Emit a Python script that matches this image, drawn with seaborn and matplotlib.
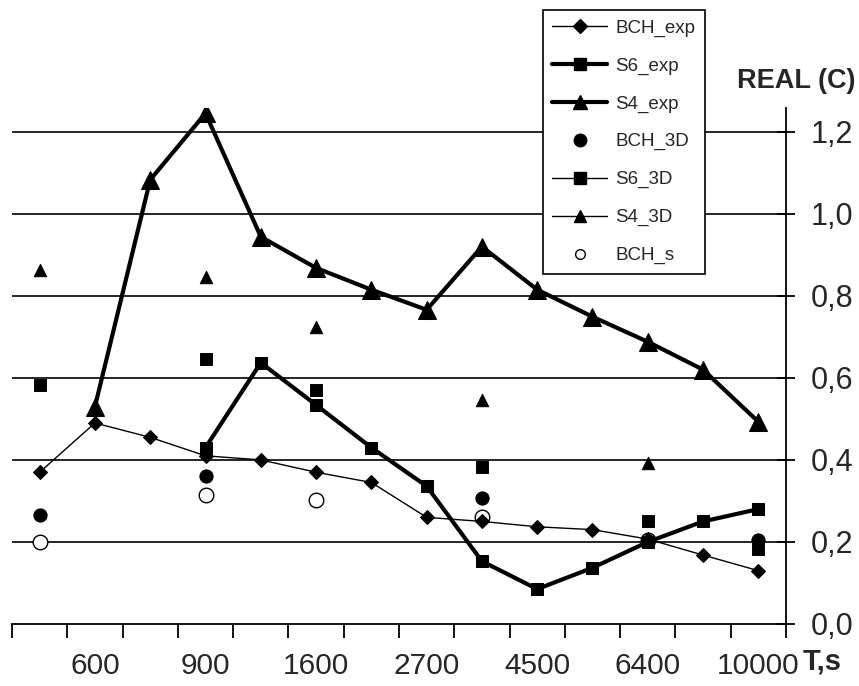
import numpy as np
import pandas as pd
import matplotlib
matplotlib.use("Agg")
import matplotlib.pyplot as plt
from matplotlib.lines import Line2D
import seaborn as sns

# категории по оси T, подписаны только через одну
x_labels = ["", "600", "", "900", "", "1600", "", "2700", "", "4500", "", "6400", "", "10000"]
nan = np.nan

bch_exp = [0.37, 0.49, 0.455, 0.41, 0.40, 0.37, 0.345, 0.26, 0.25, 0.237, 0.23, 0.207, 0.168, 0.13]
s6_exp = [nan, nan, nan, 0.43, 0.637, 0.534, 0.43, 0.336, 0.153, 0.085, 0.137, 0.20, 0.25, 0.28]
s4_exp = [nan, 0.53, 1.083, 1.245, 0.944, 0.868, 0.815, 0.766, 0.92, 0.815, 0.749, 0.688, 0.62, 0.493]
bch_3d = [0.266, nan, nan, 0.36, nan, nan, nan, nan, 0.307, nan, nan, nan, nan, 0.205]
s6_3d = [0.583, nan, nan, 0.646, nan, 0.57, nan, nan, 0.383, nan, nan, 0.25, nan, 0.183]
s4_3d = [0.863, nan, nan, 0.847, nan, 0.725, nan, nan, 0.546, nan, nan, 0.392, nan, nan]
bch_s = [0.20, nan, nan, 0.315, nan, 0.302, nan, nan, 0.26, nan, nan, 0.205, nan, nan]

df = pd.DataFrame({
    "pos": np.arange(len(x_labels)),
    "BCH_exp": bch_exp, "S6_exp": s6_exp, "S4_exp": s4_exp,
    "BCH_3D": bch_3d, "S6_3D": s6_3d, "S4_3D": s4_3d, "BCH_s": bch_s,
})

sns.set_style("white")
plt.rcParams["font.family"] = ["Liberation Sans", "DejaVu Sans"]

fig = plt.figure(figsize=(8.59, 6.86), dpi=100)
ax = fig.add_axes([0.014, 0.0904, 0.901, 0.7522])

# сетка
for yv in [0.2, 0.4, 0.6, 0.8, 1.0, 1.2]:
    ax.axhline(yv, color="black", lw=1.2, zorder=1)

# открытые кружки лежат под линиями
sns.scatterplot(data=df, x="pos", y="BCH_s", marker="o", s=110, color="white",
                edgecolor="black", linewidth=1.0, ax=ax, zorder=2)

sns.lineplot(data=df, x="pos", y="BCH_exp", color="black", lw=1.0, marker="D",
             markersize=7, markeredgecolor="black", ax=ax, zorder=3)
sns.lineplot(data=df, x="pos", y="S6_exp", color="black", lw=3.0, marker="s",
             markersize=8, markeredgecolor="black", ax=ax, zorder=4)
sns.lineplot(data=df, x="pos", y="S4_exp", color="black", lw=3.0, marker="^",
             markersize=13, markeredgecolor="black", ax=ax, zorder=4)

sns.scatterplot(data=df, x="pos", y="BCH_3D", marker="o", s=90, color="black",
                edgecolor="black", ax=ax, zorder=5)
sns.scatterplot(data=df, x="pos", y="S6_3D", marker="s", s=70, color="black",
                edgecolor="black", ax=ax, zorder=5)
sns.scatterplot(data=df, x="pos", y="S4_3D", marker="^", s=80, color="black",
                edgecolor="black", ax=ax, zorder=5)

ax.set_xlim(-0.5, len(x_labels) - 0.5)
ax.set_ylim(0, 1.258)
ax.set_xlabel("")
ax.set_ylabel("")

# ось X: деления между категориями, подписи по центру
ax.set_xticks(np.arange(-0.5, len(x_labels), 1.0))
ax.set_xticklabels([])
ax.set_xticks(np.arange(len(x_labels)), minor=True)
ax.set_xticklabels(x_labels, minor=True, fontsize=21.5)
ax.tick_params(axis="x", which="major", direction="out", length=10, width=1.3,
               color="black", bottom=True)
ax.tick_params(axis="x", which="minor", length=0, pad=20)

# ось Y справа
ax.yaxis.tick_right()
ax.set_yticks([0.0, 0.2, 0.4, 0.6, 0.8, 1.0, 1.2])
ax.set_yticklabels(["0,0", "0,2", "0,4", "0,6", "0,8", "1,0", "1,2"], fontsize=22)
ax.tick_params(axis="y", which="major", direction="inout", length=13, width=1.3,
               color="black", right=True, left=False, pad=11)

for side in ["top", "left"]:
    ax.spines[side].set_visible(False)
for side in ["bottom", "right"]:
    ax.spines[side].set_color("black")
    ax.spines[side].set_linewidth(1.3)

fig.text(737 / 859, 1 - 88 / 686, "REAL (C)", fontsize=19.5, fontweight="bold",
         ha="left", va="baseline")
fig.text(803 / 859, 1 - 670 / 686, "T,s", fontsize=21, fontweight="bold",
         ha="left", va="baseline")

handles = [
    Line2D([], [], color="black", lw=1.0, marker="D", markersize=7),
    Line2D([], [], color="black", lw=3.0, marker="s", markersize=8),
    Line2D([], [], color="black", lw=3.0, marker="^", markersize=10),
    Line2D([], [], color="black", lw=0, marker="o", markersize=9),
    Line2D([], [], color="black", lw=1.0, marker="s", markersize=8),
    Line2D([], [], color="black", lw=1.0, marker="^", markersize=9),
    Line2D([], [], color="black", lw=0, marker="o", markersize=7,
           markerfacecolor="white", markeredgewidth=1.0),
]
labels = ["BCH_exp", "S6_exp", "S4_exp", "BCH_3D", "S6_3D", "S4_3D", "BCH_s"]
leg = fig.legend(handles, labels, loc="upper left",
                 bbox_to_anchor=(543 / 859, 1 - 10 / 686), fontsize=13.5,
                 frameon=True, fancybox=False, framealpha=1, edgecolor="black",
                 labelspacing=1.1, handlelength=2.9, handletextpad=0.45,
                 borderpad=0.5, borderaxespad=0)
leg.get_frame().set_linewidth(1.2)

fig.savefig("out.png", dpi=100)
